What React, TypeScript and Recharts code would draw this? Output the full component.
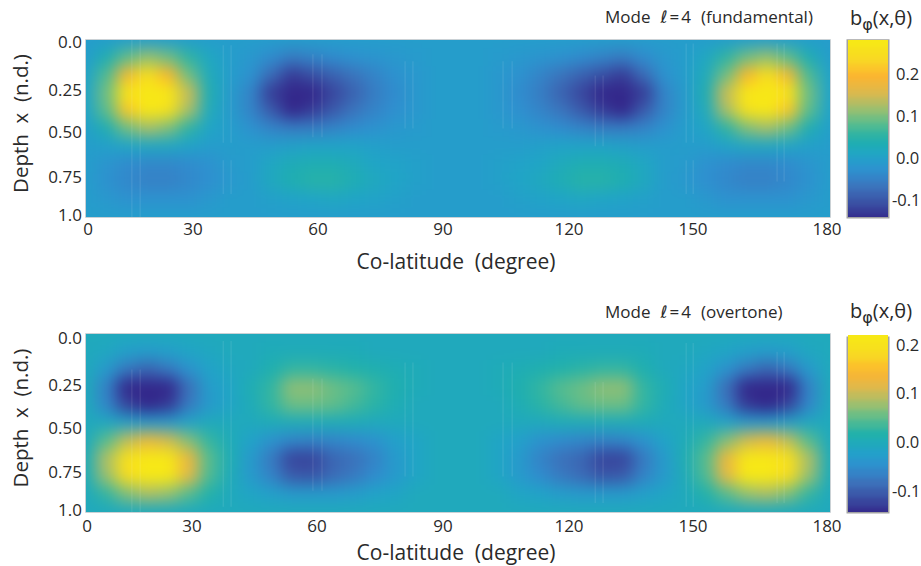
import { ScatterChart, Scatter, XAxis, YAxis, ReferenceArea, Label } from 'recharts';

const FONT = "'Open Sans', 'Noto Sans', sans-serif";
const TEXT = '#2a2a2a';

const colatitudes = [0, 5, 10, 15, 20, 25, 30, 35, 40, 45, 50, 55, 60, 65, 70, 75, 80, 85, 90, 95, 100, 105, 110, 115, 120, 125, 130, 135, 140, 145, 150, 155, 160, 165, 170, 175, 180];
const depths = [0, 0.1, 0.2, 0.3, 0.4, 0.5, 0.6, 0.7, 0.8, 0.9, 1];
const xTicks = [0, 30, 60, 90, 120, 150, 180];
const yTicks = [0, 0.25, 0.5, 0.75, 1];
const yTickLabels = ['0.0', '0.25', '0.50', '0.75', '1.0'];

// b_phi x 100, one row per depth
const fundamentalRows = [
  [0, 0, 0, 0, 0, 0, 0, 0, 0, 0, 0, 0, 0, 0, 0, 0, 0, 0, 0, 0, 0, 0, 0, 0, 0, 0, 0, 0, 0, 0, 0, 0, 0, 0, 0, 0, 0],
  [0, 4, 9, 12, 10, 6, 2, 0, -1, -3, -5, -4, -3, -2, -1.5, -1, -0.5, 0, 0, 0, -0.5, -1, -1.5, -2, -3, -4, -5, -3, -1, 0, 2, 6, 10, 12, 9, 4, 0],
  [1, 8, 19, 26, 20, 10, 3, 0, -2, -7, -12, -10, -8, -6, -4, -2, -1, 0, 0, 0, -1, -2, -4, -6, -8, -10, -12, -7, -2, 0, 3, 10, 20, 26, 19, 8, 1],
  [1, 10, 27, 42, 33, 15, 4, -0.5, -4, -12, -21, -17, -11, -8, -5, -3, -1, 0, 0, 0, -1, -3, -5, -8, -11, -17, -21, -12, -4, -0.5, 4, 15, 33, 42, 27, 10, 1],
  [1, 9, 22, 32, 26, 13, 3, -0.5, -4, -9, -14, -12, -9, -6, -4, -2.5, -1, 0, 0, 0, -1, -2.5, -4, -6, -9, -12, -14, -9, -4, -0.5, 3, 13, 26, 32, 22, 9, 1],
  [0.5, 4, 10, 13, 11, 6, 1.5, 0, -2, -4, -5, -5, -4, -3, -2, -1, -0.5, 0, 0, 0, -0.5, -1, -2, -3, -4, -5, -5, -4, -2, 0, 1.5, 6, 11, 13, 10, 4, 0.5],
  [0, 0.5, 1.5, 2, 2, 1, 0, 0, 0, 0, 0.5, 1, 1, 1, 0.5, 0, 0, 0, 0, 0, 0, 0, 0.5, 1, 1, 1, 0.5, 0, 0, 0, 0, 1, 2, 2, 1.5, 0.5, 0],
  [0, -1.5, -3, -3.5, -3.5, -3, -2, -0.5, 0, 2, 3.5, 4, 4, 3, 1.5, 1, 0.5, 0, 0, 0, 0.5, 1, 1.5, 3, 4, 4, 3.5, 2, 0, -0.5, -2, -3, -3.5, -3.5, -3, -1.5, 0],
  [0, -2, -3.5, -4.5, -4.5, -3.5, -2.5, -1, 0, 2.5, 4.5, 5.5, 5.5, 4, 2.5, 1.5, 0.5, 0, 0, 0, 0.5, 1.5, 2.5, 4, 5.5, 5.5, 4.5, 2.5, 0, -1, -2.5, -3.5, -4.5, -4.5, -3.5, -2, 0],
  [0, -1, -2, -2, -2, -2, -1, 0, 0, 0.5, 1, 1.5, 2, 1.5, 1, 0.5, 0, 0, 0, 0, 0, 0.5, 1, 1.5, 2, 1.5, 1, 0.5, 0, 0, -1, -2, -2, -2, -2, -1, 0],
  [0, 0, 0, 0, 0, 0, 0, 0, 0, 0, 0, 0, 0, 0, 0, 0, 0, 0, 0, 0, 0, 0, 0, 0, 0, 0, 0, 0, 0, 0, 0, 0, 0, 0, 0, 0, 0],
];

const overtoneRows = [
  [0, 0, 0, 0, 0, 0, 0, 0, 0, 0, 0, 0, 0, 0, 0, 0, 0, 0, 0, 0, 0, 0, 0, 0, 0, 0, 0, 0, 0, 0, 0, 0, 0, 0, 0, 0, 0],
  [0, -0.5, -2, -2.5, -2, -1, -0.5, 0, 0, 0.5, 0.5, 0.5, 0.5, 0.5, 0, 0, 0, 0, 0, 0, 0, 0, 0, 0.5, 0.5, 0.5, 0.5, 0.5, 0, 0, -0.5, -1, -2, -2.5, -2, -0.5, 0],
  [0, -3, -7, -9, -7, -4, -1.5, -0.5, 0, 1.5, 3, 3, 2.5, 2, 1.5, 1, 0.5, 0, 0, 0, 0.5, 1, 1.5, 2, 2.5, 3, 3, 1.5, 0, -0.5, -1.5, -4, -7, -9, -7, -3, 0],
  [0, -6, -15, -22, -17, -8, -2.5, -1, 1, 3, 7.5, 7.5, 6, 5, 3, 1.5, 0.5, 0, 0, 0, 0.5, 1.5, 3, 5, 6, 7.5, 7.5, 3, 1, -1, -2.5, -8, -17, -22, -15, -6, 0],
  [0, -5.5, -12, -17, -13, -7, -3, -1, 0.5, 3, 6, 6, 5.5, 4, 2.5, 1, 0, 0, 0, 0, 0, 1, 2.5, 4, 5.5, 6, 6, 3, 0.5, -1, -3, -7, -13, -17, -12, -5.5, 0],
  [0, -0.5, -2, -3, -3, -1.5, 0, 0, 0, 0.5, 0.5, 0.5, 0.5, 0.5, 0, 0, 0, 0, 0, 0, 0, 0, 0, 0.5, 0.5, 0.5, 0.5, 0.5, 0, 0, 0, -1.5, -3, -3, -2, -0.5, 0],
  [0, 5, 10, 13, 11, 7, 3, 0.5, -1.5, -4, -5.5, -6, -5.5, -5, -4, -2, -1, 0, 0, 0, -1, -2, -4, -5, -5.5, -6, -5.5, -4, -1.5, 0.5, 3, 7, 11, 13, 10, 5, 0],
  [0.5, 9, 20, 29, 24, 13, 5, 1, -3, -7, -12, -12, -9, -8, -6, -3, -1, 0, 0, 0, -1, -3, -6, -8, -9, -12, -12, -7, -3, 1, 5, 13, 24, 29, 20, 9, 0.5],
  [0.5, 8, 19, 27, 22, 12, 4.5, 0.5, -3, -6, -10, -10.5, -8.5, -7, -5, -3, -1, 0, 0, 0, -1, -3, -5, -7, -8.5, -10.5, -10, -6, -3, 0.5, 4.5, 12, 22, 27, 19, 8, 0.5],
  [0, 3, 7, 9, 8, 5, 2, 0, -1, -2, -3, -3, -3, -2.5, -1.5, -1, 0, 0, 0, 0, 0, -1, -1.5, -2.5, -3, -3, -3, -2, -1, 0, 2, 5, 8, 9, 7, 3, 0],
  [0, 0, 0, 0, 0, 0, 0, 0, 0, 0, 0, 0, 0, 0, 0, 0, 0, 0, 0, 0, 0, 0, 0, 0, 0, 0, 0, 0, 0, 0, 0, 0, 0, 0, 0, 0, 0],
];

// faint vertical streaks: colatitude, depth from, depth to
const fundamentalStreaks = [
  [11.1, 0, 1], [13.1, 0, 1], [33.2, 0.03, 0.58], [35.1, 0.03, 0.58], [33.2, 0.68, 0.87], [35.1, 0.68, 0.87],
  [54.9, 0.08, 0.55], [57.1, 0.08, 0.55], [77.2, 0.12, 0.5], [79.1, 0.12, 0.5], [100.9, 0.12, 0.5], [103.1, 0.12, 0.5],
  [123.2, 0.2, 0.6], [125.1, 0.2, 0.6], [145.2, 0.02, 0.58], [146.9, 0.02, 0.58], [145.2, 0.68, 0.87], [146.9, 0.68, 0.87],
  [167.2, 0.02, 0.8], [168.9, 0.02, 0.8],
];
const overtoneStreaks = [
  [11.1, 0.2, 1], [13.1, 0.2, 1], [33.2, 0.04, 0.97], [35.1, 0.04, 0.97],
  [54.9, 0.25, 0.88], [57.1, 0.25, 0.88], [77.2, 0.16, 0.8], [79.1, 0.16, 0.8], [100.9, 0.16, 0.8], [103.1, 0.16, 0.8],
  [123.2, 0.27, 0.95], [125.1, 0.27, 0.95], [145.2, 0.05, 0.97], [146.9, 0.05, 0.97], [167.2, 0.1, 0.95], [168.9, 0.1, 0.95],
];

const barLevels = [-0.14, -0.12, -0.1, -0.08, -0.06, -0.04, -0.02, 0, 0.02, 0.04, 0.06, 0.08, 0.1, 0.12, 0.14, 0.16, 0.18, 0.2, 0.22, 0.24, 0.26, 0.28];
const barTicks = [-0.1, 0, 0.1, 0.2];

// washed-out parula as it prints in the reference
const PARULA = ['#33268a', '#3a4fa3', '#3c72bb', '#2f8fd0', '#20a4c8', '#1fb0ac', '#58bd8e', '#a3bf6c', '#e0b84b', '#fdb52f', '#f8d824', '#f7e816'];

function parula(value: number, min: number, max: number) {
  const t = Math.min(1, Math.max(0, (value - min) / (max - min))) * (PARULA.length - 1);
  const i = Math.min(PARULA.length - 2, Math.floor(t));
  const f = t - i;
  const a = PARULA[i];
  const b = PARULA[i + 1];
  const mix = (s: number) => Math.round(parseInt(a.slice(s, s + 2), 16) * (1 - f) + parseInt(b.slice(s, s + 2), 16) * f);
  return `rgb(${mix(1)},${mix(3)},${mix(5)})`;
}

function toCells(rows: number[][]) {
  return rows.flatMap((row, r) => row.map((v, c) => ({ deg: colatitudes[c], depth: depths[r], value: v / 100 })));
}

const CELL_W = 22;
const CELL_H = 19;
const BLEED = 30;

function HeatCell(props: any, min: number, max: number) {
  const { cx, cy, payload } = props;
  // border cells run past the plot so the blur does not fade at the edge
  const left = payload.deg === 0 ? BLEED : CELL_W / 2;
  const right = payload.deg === 180 ? BLEED : CELL_W / 2;
  const top = payload.depth === 0 ? BLEED : CELL_H / 2;
  const bottom = payload.depth === 1 ? BLEED : CELL_H / 2;
  return <rect x={cx - left} y={cy - top} width={left + right} height={top + bottom} fill={parula(payload.value, min, max)} />;
}

function BarCell(props: any, min: number, max: number) {
  const { cx, cy, payload } = props;
  return <rect x={cx - 30} y={cy - 7} width={60} height={14} fill={parula(payload.level, min, max)} />;
}

interface PanelProps {
  id: string;
  top: number;
  height: number;
  plotHeight: number;
  rows: number[][];
  streaks: number[][];
  min: number;
  max: number;
  xTickShift: number[];
  yTickShift: number[];
  labelOffset: number;
  tickDy: number;
}

function Panel({ id, top, height, plotHeight, rows, streaks, min, max, xTickShift, yTickShift, labelOffset, tickDy }: PanelProps) {
  return (
    <div className={id} style={{ position: 'absolute', left: 0, top }}>
      <svg width={0} height={0} style={{ position: 'absolute' }}>
        <defs>
          <clipPath id={`clip-${id}`}>
            <rect x={86} y={40} width={744} height={plotHeight} />
          </clipPath>
        </defs>
      </svg>
      <style>{`.${id} .recharts-scatter:not(.streak){filter:blur(8px);clip-path:url(#clip-${id})}`}</style>
      <ScatterChart width={921} height={height} margin={{ top: 40, right: 91, left: 0, bottom: 0 }}>
        <XAxis
          type="number"
          dataKey="deg"
          domain={[0, 180]}
          ticks={xTicks}
          axisLine={false}
          tickLine={false}
          height={height - 40 - plotHeight}
          tick={(p: any) => (
            <text x={p.x + xTickShift[p.index]} y={p.y + tickDy} textAnchor="middle" fontSize={17} fontFamily={FONT} fill={TEXT}>
              {p.payload.value}
            </text>
          )}
        >
          <Label
            value={'Co-latitude\u00a0\u00a0(degree)'}
            position="bottom"
            offset={labelOffset}
            dx={-2}
            style={{ fontSize: 21, fontFamily: FONT, fill: TEXT }}
          />
        </XAxis>
        <YAxis
          type="number"
          dataKey="depth"
          reversed
          domain={[0, 1]}
          ticks={yTicks}
          axisLine={false}
          tickLine={false}
          width={86}
          tick={(p: any) => (
            <text x={82} y={p.y + yTickShift[p.index] + 6} textAnchor="end" fontSize={17} fontFamily={FONT} fill={TEXT}>
              {yTickLabels[p.index]}
            </text>
          )}
        >
          <Label
            value={'Depth\u00a0\u00a0x\u00a0\u00a0(n.d.)'}
            angle={-90}
            position="insideLeft"
            offset={21}
            dy={-5}
            style={{ fontSize: 20.5, fontFamily: FONT, fill: TEXT, textAnchor: 'middle' }}
          />
        </YAxis>
        <Scatter data={toCells(rows)} isAnimationActive={false} shape={(p: any) => HeatCell(p, min, max)} />
        {streaks.map(([deg, from, to], i) => (
          <Scatter
            key={i}
            className="streak"
            data={[{ deg, depth: from }, { deg, depth: to }]}
            line={{ stroke: 'rgba(255,255,255,0.1)', strokeWidth: 1.2 }}
            shape={() => <g />}
            isAnimationActive={false}
          />
        ))}
        <ReferenceArea x1={0} x2={180} y1={0} y2={1} fill="none" stroke="#b9c2c8" strokeWidth={1.5} />
      </ScatterChart>
    </div>
  );
}

interface ColorBarProps {
  id: string;
  top: number;
  min: number;
  max: number;
  plotHeight: number;
}

function ColorBar({ id, top, min, max, plotHeight }: ColorBarProps) {
  const cells = barLevels.filter((l) => l <= max + 0.02).map((level) => ({ pos: 0.5, level }));
  return (
    <div className={id} style={{ position: 'absolute', left: 840, top }}>
      <svg width={0} height={0} style={{ position: 'absolute' }}>
        <defs>
          <clipPath id={`clip-${id}`}>
            <rect x={8} y={10} width={40} height={plotHeight} />
          </clipPath>
        </defs>
      </svg>
      <style>{`.${id} .recharts-scatter{filter:blur(2.5px);clip-path:url(#clip-${id})}`}</style>
      <ScatterChart width={81} height={plotHeight + 20} margin={{ top: 10, right: 0, left: 8, bottom: 10 }}>
        <XAxis type="number" dataKey="pos" domain={[0, 1]} hide />
        <YAxis
          type="number"
          dataKey="level"
          orientation="right"
          domain={[min, max]}
          ticks={barTicks}
          axisLine={false}
          tickLine={false}
          width={33}
          tick={(p: any) => (
            <text x={p.payload.value < 0 ? 52 : 56} y={p.y + 6} textAnchor="start" fontSize={16.5} fontFamily={FONT} fill={TEXT}>
              {p.payload.value.toFixed(1)}
            </text>
          )}
        />
        <Scatter data={cells} isAnimationActive={false} shape={(p: any) => BarCell(p, min, max)} />
        <ReferenceArea x1={0} x2={1} y1={min} y2={max} fill="none" stroke="#a2a2a2" strokeWidth={3} />
      </ScatterChart>
    </div>
  );
}

function ModeTitle({ top, suffix }: { top: number; suffix: string }) {
  return (
    <div style={{ position: 'absolute', left: 605, top, fontFamily: FONT, fontSize: 17, color: TEXT, whiteSpace: 'pre' }}>
      Mode
      <span style={{ fontFamily: 'DejaVu Sans', fontStyle: 'italic', fontWeight: 200, marginLeft: 10 }}>ℓ</span>
      <span style={{ marginLeft: 2 }}>=</span>
      <span style={{ marginLeft: 2 }}>4</span>
      <span style={{ marginLeft: 10 }}>({suffix})</span>
    </div>
  );
}

function BarTitle({ top }: { top: number }) {
  return (
    <div style={{ position: 'absolute', left: 850, top, fontFamily: FONT, fontSize: 20, color: TEXT, whiteSpace: 'pre' }}>
      b<sub style={{ fontSize: 16, fontFamily: 'DejaVu Sans', verticalAlign: -5, lineHeight: 0 }}>φ</sub>(x,θ)
    </div>
  );
}

export default function App() {
  return (
    <div style={{ position: 'absolute', left: 0, top: 0, width: 921, height: 566, background: '#fff', overflow: 'hidden' }}>
      <Panel
        id="fundamental"
        top={0}
        height={283}
        plotHeight={177}
        rows={fundamentalRows}
        streaks={fundamentalStreaks}
        min={-0.14}
        max={0.278}
        xTickShift={[2, -17, -16, -15, -13, -13, -3]}
        yTickShift={[2, 6, 3.5, 4, -2]}
        labelOffset={-29}
        tickDy={10}
      />
      <Panel
        id="overtone"
        top={294}
        height={272}
        plotHeight={178}
        rows={overtoneRows}
        streaks={overtoneStreaks}
        min={-0.144}
        max={0.214}
        xTickShift={[1, -18, -17, -15, -13, -13, -3]}
        yTickShift={[4, 6, 5, 4, -2]}
        labelOffset={-21}
        tickDy={12}
      />
      <ColorBar id="bar-a" top={30} min={-0.14} max={0.278} plotHeight={177} />
      <ColorBar id="bar-b" top={325} min={-0.144} max={0.214} plotHeight={177} />
      <ModeTitle top={5} suffix="fundamental" />
      <ModeTitle top={300} suffix="overtone" />
      <BarTitle top={4} />
      <BarTitle top={297} />
    </div>
  );
}
